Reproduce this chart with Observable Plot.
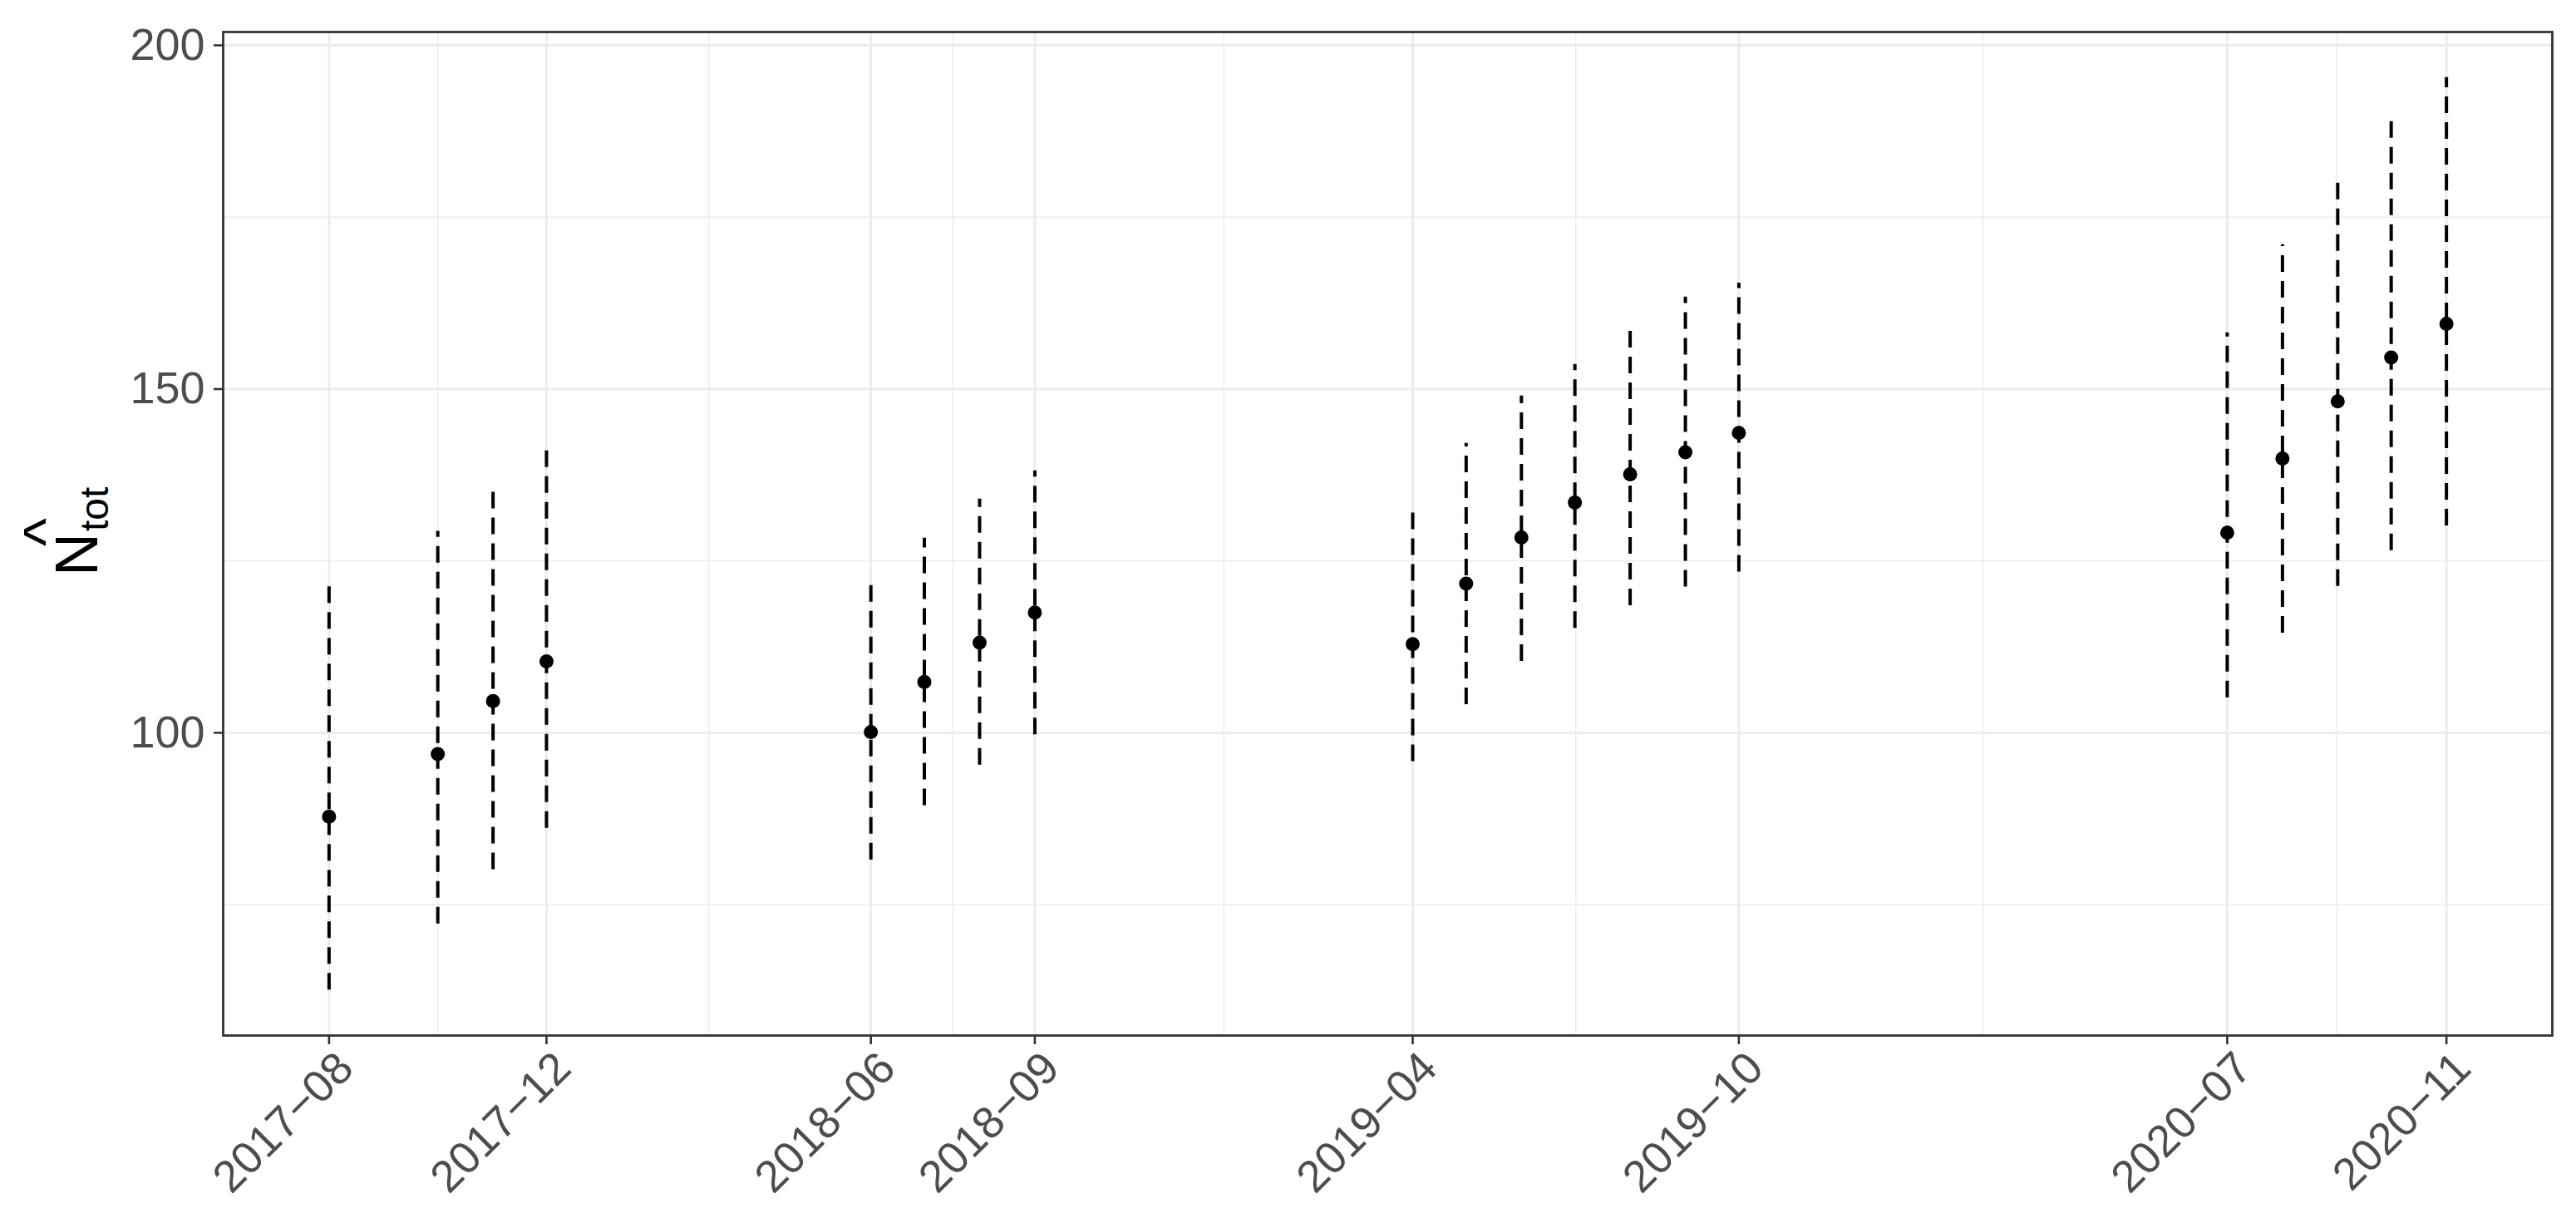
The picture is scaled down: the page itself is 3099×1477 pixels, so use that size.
<!DOCTYPE html>
<html>
<head>
<meta charset="utf-8">
<script src="https://cdn.jsdelivr.net/npm/d3@7"></script>
<script src="https://cdn.jsdelivr.net/npm/@observablehq/plot@0.6"></script>
<style>
  html, body { margin: 0; padding: 0; background: #ffffff; }
  svg { display: block; overflow: visible; }
</style>
</head>
<body>
<div id="chart"></div>
<script>
// ---- data ----
const months = ["2017-08","2017-10","2017-11","2017-12",
                "2018-06","2018-07","2018-08","2018-09",
                "2019-04","2019-05","2019-06","2019-07","2019-08","2019-09","2019-10",
                "2020-07","2020-08","2020-09","2020-10","2020-11"];
const estimate = [87.8, 96.9, 104.6, 110.4,
                  100.1, 107.4, 113.1, 117.5,
                  112.9, 121.7, 128.4, 133.5, 137.6, 140.8, 143.6,
                  129.1, 139.9, 148.2, 154.6, 159.5];
const lower = [62.6, 72.2, 80.1, 86.1,
               81.5, 89.4, 95.3, 99.7,
               95.8, 104.1, 110.4, 115.2, 118.5, 121.2, 123.4,
               105.1, 114.5, 121.3, 126.5, 130.1];
const upper = [122.5, 129.3, 136.3, 141.6,
               122.3, 128.3, 134.0, 138.1,
               133.0, 142.1, 149.0, 153.6, 159.4, 163.4, 165.4,
               158.2, 171.0, 180.8, 188.9, 195.3];
const xTickLabels = ["2017-08","2017-12","2018-06","2018-09","2019-04","2019-10","2020-07","2020-11"];
const yTicks = [100, 150, 200];
const yMinor = [75, 125, 175];

// ---- build table ----
const parseMonth = d3.utcParse("%Y-%m");
const data = months.map((m, i) => ({
  date: parseMonth(m), est: estimate[i], lo: lower[i], hi: upper[i]
}));
const xTicks = xTickLabels.map(parseMonth);
const xMinor = d3.pairs(xTicks, (a, b) => new Date((+a + +b) / 2));

// ggplot-like 5% expansion
const [dx0, dx1] = d3.extent(data, d => d.date);
const padX = (dx1 - dx0) * 0.05;
const xDomain = [new Date(+dx0 - padX), new Date(+dx1 + padX)];
const ylo = d3.min(lower), yhi = d3.max(upper);
const padY = (yhi - ylo) * 0.05;
const yDomain = [ylo - padY, yhi + padY];

const fmt = d => d3.utcFormat("%Y")(d) + "\u2212" + d3.utcFormat("%m")(d);

const chart = Plot.plot({
  width: 3099,
  height: 1477,
  marginLeft: 268,
  marginRight: 29,
  marginTop: 38,
  marginBottom: 232,
  style: {
    fontFamily: "'Liberation Sans', Arial, sans-serif",
    fontSize: "54px",
    background: "#ffffff",
    color: "#4D4D4D"
  },
  x: {type: "utc", domain: xDomain},
  y: {domain: yDomain},
  marks: [
    Plot.ruleX(xMinor, {stroke: "#EBEBEB", strokeWidth: 1.4}),
    Plot.ruleY(yMinor, {stroke: "#EBEBEB", strokeWidth: 1.4}),
    Plot.ruleX(xTicks, {stroke: "#EBEBEB", strokeWidth: 2.8}),
    Plot.ruleY(yTicks, {stroke: "#EBEBEB", strokeWidth: 2.8}),
    Plot.ruleX(data, {x: "date", y1: "lo", y2: "hi", stroke: "#000000",
                      strokeWidth: 4, strokeDasharray: "20,11"}),
    Plot.dot(data, {x: "date", y: "est", r: 8.5, fill: "#000000"}),
    Plot.frame({stroke: "#333333", strokeWidth: 2.8}),
    // x tick marks only
    Plot.axisX({ticks: xTicks, tickFormat: () => "", tickSize: 11,
                stroke: "#333333", strokeWidth: 2.6, label: null}),
    // x tick labels, rotated 45°
    Plot.text(xTicks, {x: d => d, frameAnchor: "bottom", text: fmt,
                       rotate: -45, textAnchor: "end", lineAnchor: "middle",
                       dx: 20, dy: 30, fontSize: 54, fill: "#4D4D4D"}),
    Plot.axisY({ticks: yTicks, tickSize: 11, tickPadding: 11,
                stroke: "#333333", strokeWidth: 2.6, fill: "#4D4D4D",
                fontSize: 54, label: null})
  ]
});

document.getElementById("chart").appendChild(chart);

// ---- y-axis title: N-hat with subscript "tot" ----
const svg = d3.select(chart);
const g = svg.append("g")
  .attr("transform", "translate(117,639) rotate(-90)")
  .attr("font-family", "'Liberation Sans', Arial, sans-serif")
  .attr("text-anchor", "start")
  .attr("fill", "#000000");
const t = g.append("text").attr("x", -54).attr("y", 0).attr("font-size", 72)
  .attr("text-anchor", "start");
t.append("tspan").text("N");
t.append("tspan").attr("dy", 13).attr("dx", 2).attr("font-size", 48).text("tot");
g.append("text")
  .attr("x", -1).attr("y", -38)
  .attr("text-anchor", "middle")
  .attr("font-size", 72)
  .text("^");
</script>
</body>
</html>
